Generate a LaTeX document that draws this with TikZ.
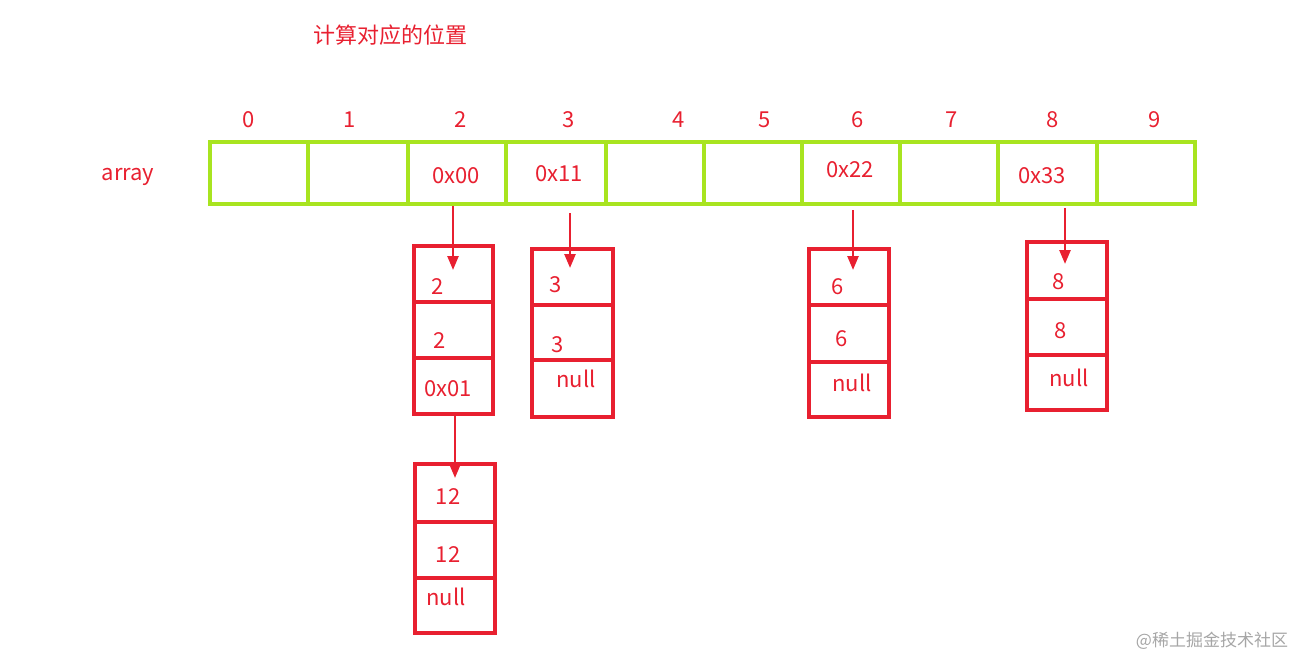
\documentclass[tikz,border=0pt]{standalone}
\usepackage{fontspec}
\setmainfont{Noto Sans CJK SC}
\usetikzlibrary{arrows.meta}
\definecolor{rd}{RGB}{232,32,48}
\definecolor{gr}{RGB}{168,228,32}
\tikzset{
  txt/.style={text=rd,font=\fontsize{22}{26}\selectfont,inner sep=0pt},
  cellbox/.style={draw=gr,line width=4pt,minimum height=62pt,inner sep=0pt},
  nbox/.style={draw=rd,line width=3.5pt,inner sep=0pt},
  arr/.style={rd,line width=2.5pt,-{Triangle[width=11pt,length=14pt]}}
}
\begin{document}
\begin{tikzpicture}[x=1pt,y=-1pt]
\useasboundingbox (0,0) rectangle (1311,671);
\node[txt] (title) at (390,35) {计算对应的位置};
\node[txt] (lab) at (128,177) {array};
% array cells
\foreach \a/\b [count=\i from 0] in {210/308,308/408,408/506,506/606,606/704,704/802,802/900,900/998,998/1097,1097/1195}{
  \node[cellbox,minimum width={\b-\a}] (c\i) at ({(\a+\b)/2},173) {};
}
\foreach \x [count=\i from 0] in {249,350,461,569,679,765,858,952,1053,1155}
  \node[txt] (i\i) at (\x,120) {\i};
\node[txt] at (456,176) {0x00};
\node[txt] at (559,174) {0x11};
\node[txt] at (850,170) {0x22};
\node[txt] at (1042,176) {0x33};
% chains: name/x1/x2/y1/d1/d2/y2
\foreach \n/\xa/\xb/\ya/\da/\db/\yb in {a/414/493/246/302/358/414, b/415/495/464/522/578/633, c/532/613/249/305/360/417, d/809/889/249/305/362/417, e/1027/1107/242/299/355/410}{
  \node[nbox,minimum width={\xb-\xa},minimum height={\da-\ya}] (\n1) at ({(\xa+\xb)/2},{(\ya+\da)/2}) {};
  \node[nbox,minimum width={\xb-\xa},minimum height={\db-\da}] (\n2) at ({(\xa+\xb)/2},{(\da+\db)/2}) {};
  \node[nbox,minimum width={\xb-\xa},minimum height={\yb-\db}] (\n3) at ({(\xa+\xb)/2},{(\db+\yb)/2}) {};
}
\node[txt] at (438,287) {2};
\node[txt] at (440,341) {2};
\node[txt] at (448,389) {0x01};
\node[txt] at (448,497) {12};
\node[txt] at (448,555) {12};
\node[txt] at (446,597) {null};
\node[txt] at (556,285) {3};
\node[txt] at (558,345) {3};
\node[txt] at (576,379) {null};
\node[txt] at (838,287) {6};
\node[txt] at (842,339) {6};
\node[txt] at (852,383) {null};
\node[txt] at (1059,282) {8};
\node[txt] at (1061,331) {8};
\node[txt] at (1069,378) {null};
\draw[arr] (453,206) -- (453,270);
\draw[arr] (455,414) -- (455,478);
\draw[arr] (570,213) -- (570,268);
\draw[arr] (853,210) -- (853,270);
\draw[arr] (1065,208) -- (1065,264);
\node[text=gray!70,font=\fontsize{17}{20}\selectfont] (wm) at (1212,641) {@稀土掘金技术社区};
\end{tikzpicture}
\end{document}
